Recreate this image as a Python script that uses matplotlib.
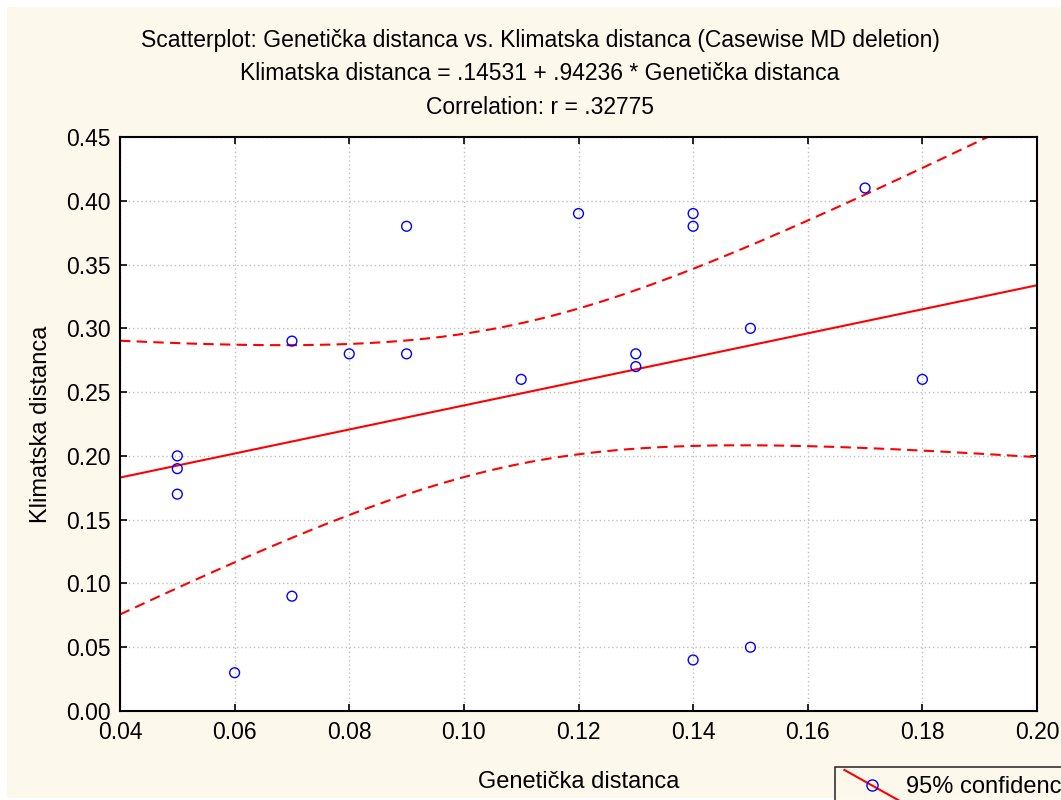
import numpy as np
import matplotlib.pyplot as plt
from matplotlib.lines import Line2D
from matplotlib.patches import Rectangle
from matplotlib.legend_handler import HandlerLine2D

plt.rcParams['font.family'] = ['Liberation Sans', 'DejaVu Sans']

gen_dist = [0.05, 0.05, 0.05, 0.06, 0.07, 0.07, 0.08, 0.09, 0.09, 0.11,
            0.12, 0.13, 0.13, 0.14, 0.14, 0.14, 0.15, 0.15, 0.17, 0.18]
klim_dist = [0.20, 0.19, 0.17, 0.03, 0.29, 0.09, 0.28, 0.38, 0.28, 0.26,
             0.39, 0.28, 0.27, 0.39, 0.38, 0.04, 0.30, 0.05, 0.41, 0.26]
intercept = 0.14531
slope = 0.94236
t_crit = 2.1009  # t(0.975, df=18)

x = np.array(gen_dist)
y = np.array(klim_dist)
n = len(x)
xs = np.linspace(0.04, 0.20, 200)
fit = intercept + slope * xs
resid = y - (intercept + slope * x)
s = np.sqrt(np.sum(resid ** 2) / (n - 2))
sxx = np.sum((x - x.mean()) ** 2)
half = t_crit * s * np.sqrt(1 / n + (xs - x.mean()) ** 2 / sxx)

W, H = 1061, 800
bg = '#fdf8ec'
fig = plt.figure(figsize=(10.61, 8), dpi=100, facecolor='white')
fig.patches.append(Rectangle((7 / W, 2 / H), 1, 1 - 9 / H, transform=fig.transFigure,
                             facecolor=bg, edgecolor='none', zorder=-10))
ax = fig.add_axes([120 / W, 1 - 711 / H, (1037 - 120) / W, (711 - 137) / H])
ax.set_facecolor('white')

ax.plot(xs, fit, color='red', lw=1.5)
ax.plot(xs, fit + half, color='red', lw=1.5, ls=(0, (5, 3)))
ax.plot(xs, fit - half, color='red', lw=1.5, ls=(0, (5, 3)))
ax.scatter(x, y, s=50, facecolors='none', edgecolors='blue', linewidths=1, zorder=3)

ticks_x = np.arange(0.04, 0.201, 0.02)
ticks_y = np.arange(0.0, 0.451, 0.05)
ax.set_xlim(0.04, 0.20)
ax.set_ylim(0.0, 0.45)
ax.set_xticks(ticks_x)
ax.set_yticks(ticks_y)
ax.set_xticklabels([f'{v:.2f}' for v in ticks_x])
ax.set_yticklabels([f'{v:.2f}' for v in ticks_y])
ax.tick_params(direction='in', top=True, right=True, length=5, width=1.2,
               labelsize=16.5, pad=7)
ax.grid(True, color='#c0c0c0', ls=(0, (1, 2)), lw=1)
for sp in ax.spines.values():
    sp.set_linewidth(1.5)

ax.set_xlabel('Genetička distanca', fontsize=17, labelpad=20)
ax.set_ylabel('Klimatska distanca', fontsize=17, labelpad=10)

title_lines = ['Scatterplot: Genetička distanca vs. Klimatska distanca (Casewise MD deletion)',
               'Klimatska distanca = .14531 + .94236 * Genetička distanca',
               'Correlation: r = .32775']
for i, t in enumerate(title_lines):
    fig.text(540 / W, 1 - (41 + 33 * i) / H, t, ha='center', va='center', fontsize=16.5)


class DiagHandler(HandlerLine2D):
    def create_artists(self, legend, orig_handle, xdescent, ydescent, width, height, fontsize, trans):
        ln = Line2D([-xdescent, width - xdescent], [height - ydescent + 5, -ydescent - 5],
                    color='red', lw=1.5, transform=trans)
        mk = Line2D([width / 2 - xdescent], [height / 2 - ydescent], marker='o', ms=8,
                    mfc='none', mec='blue', ls='none', transform=trans)
        return [ln, mk]


h = Line2D([], [], color='red')
leg = fig.legend([h], ['95% confidence'], handler_map={h: DiagHandler()},
                 loc='upper left', bbox_to_anchor=(835 / W, 1 - 767 / H), fontsize=17,
                 frameon=True, fancybox=False, edgecolor='black', facecolor=bg,
                 handlelength=2.3, handletextpad=0.3, borderpad=0.4, borderaxespad=0)
leg.get_frame().set_linewidth(1.2)

fig.savefig('out.png', dpi=100, facecolor='white')
